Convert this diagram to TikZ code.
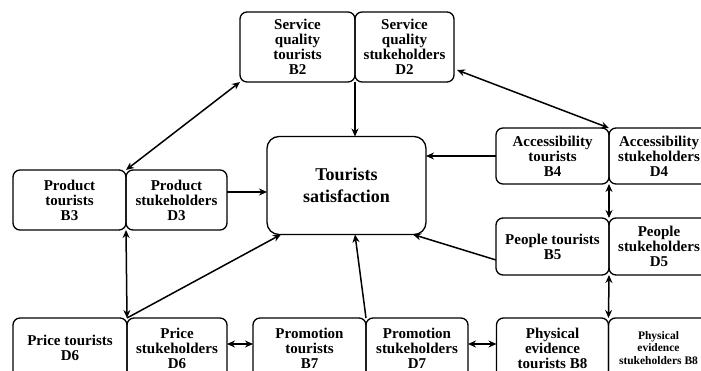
\documentclass[tikz,border=0pt]{standalone}
\usepackage{fontspec}
\setmainfont{Liberation Serif}
\usetikzlibrary{arrows.meta, positioning}

\begin{document}
\begin{tikzpicture}[x=1pt, y=-1pt,
    node distance=0pt,
    box/.style={rectangle, rounded corners=7pt, draw, line width=1.3pt, outer sep=0pt,
                inner sep=1pt, align=center, font=\fontsize{15}{15}\selectfont\bfseries},
    small/.style={font=\fontsize{11.5}{12.5}\selectfont\bfseries},
    arrow/.style={-{Stealth[length=8pt,width=7pt]}, line width=1.5pt},
    twoway/.style={{Stealth[length=8pt,width=7pt]}-{Stealth[length=8pt,width=7pt]}, line width=1.5pt}
  ]
  \useasboundingbox (0,0) rectangle (701,371);
  \clip (0,0) rectangle (701,371);

  % centre
  \node[box, rounded corners=12pt, font=\fontsize{18}{22}\selectfont\bfseries,
        minimum width=159pt, minimum height=98pt] (sat) at (346.5,185.5) {Tourists\\satisfaction};

  % top
  \node[box, minimum width=115pt, minimum height=70pt] (b2) at (297.5,47) {Service\\quality\\tourists\\B2};
  \node[box, minimum width=99pt, minimum height=70pt, right=of b2] (d2) {Service\\quality\\stukeholders\\D2};

  % right column
  \node[box, minimum width=113pt, minimum height=56pt] (b4) at (552.5,156) {Accessibility\\tourists\\B4};
  \node[box, minimum width=100pt, minimum height=56pt, right=of b4] (d4) {Accessibility\\stukeholders\\D4};
  \node[box, minimum width=113pt, minimum height=57pt] (b5) at (552.5,246.5) {People tourists\\B5};
  \node[box, minimum width=100pt, minimum height=57pt, right=of b5] (d5) {People\\stukeholders\\D5};
  \node[box, minimum width=112pt, minimum height=60pt] (b8) at (552.5,348) {Physical\\evidence\\tourists B8};
  \node[box, small, minimum width=100pt, minimum height=60pt, right=of b8] (d8) {Physical\\evidence\\stukeholders B8};

  % left and bottom
  \node[box, minimum width=113pt, minimum height=60pt] (b3) at (69.5,200) {Product\\tourists\\B3};
  \node[box, minimum width=101pt, minimum height=60pt, right=of b3] (d3) {Product\\stukeholders\\D3};
  \node[box, minimum width=114pt, minimum height=60pt] (b6) at (70,348) {Price tourists\\D6};
  \node[box, minimum width=100pt, minimum height=60pt, right=of b6] (d6) {Price\\stukeholders\\D6};
  \node[box, minimum width=113pt, minimum height=60pt] (b7) at (309.5,348) {Promotion\\tourists\\B7};
  \node[box, minimum width=102pt, minimum height=60pt, right=of b7] (d7) {Promotion\\stukeholders\\D7};

  % links
  \draw[arrow] (b2.south east) -- (b2.south east |- sat.north);
  \draw[twoway] (b2.south west) -- (b3.north east);
  \draw[twoway] ([xshift=3pt,yshift=12pt]d2.south east) -- (b4.north east);
  \draw[arrow] (b4.west) -- (b4.west -| sat.east);
  \draw[arrow] ([yshift=8pt]d3.east) -- ([yshift=8pt]d3.east -| sat.west);
  \draw[twoway] (b3.south east) -- (b6.north east);
  \draw[arrow] (b6.north east) -- ([xshift=14pt]sat.south west);
  \draw[arrow] (b7.north east) -- ([xshift=8.5pt]sat.south);
  \draw[arrow] ([yshift=-13.5pt]b5.west) -- ([xshift=-13pt]sat.south east);
  \draw[twoway] (b4.south east) -- (b5.north east);
  \draw[twoway] (b5.south east) -- (b8.north east);
  \draw[twoway] ([yshift=4pt]d6.east) -- ([yshift=4pt]b7.west);
  \draw[twoway] ([yshift=4pt]d7.east) -- ([yshift=4pt]b8.west);
\end{tikzpicture}
\end{document}
